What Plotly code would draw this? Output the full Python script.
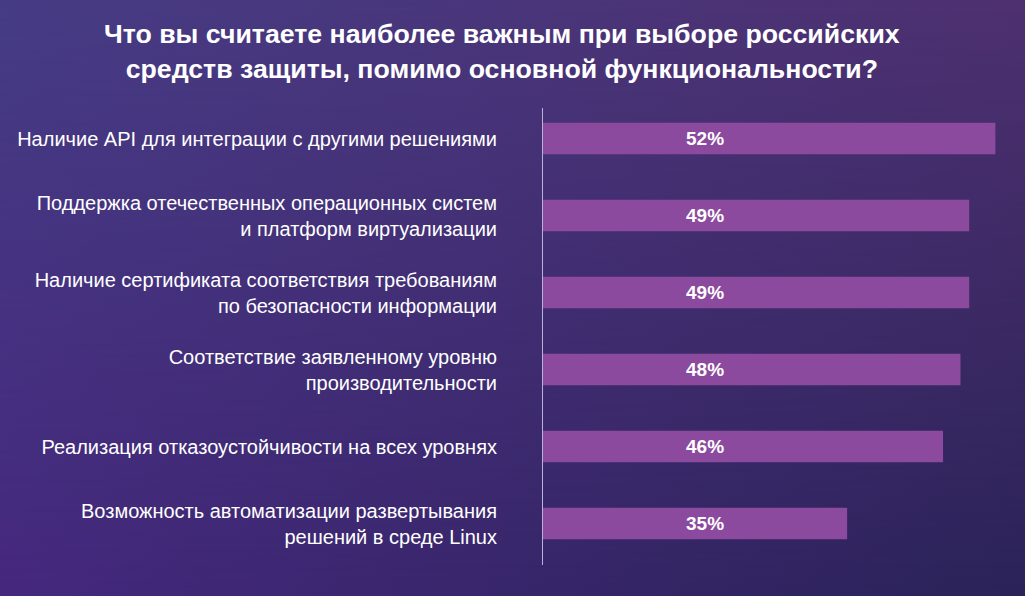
import base64
import plotly.graph_objects as go

title_text = "Что вы считаете наиболее важным при выборе российских<br>средств защиты, помимо основной функциональности?"
categories = [
    "Наличие API для интеграции с другими решениями",
    "Поддержка отечественных операционных систем<br>и платформ виртуализации",
    "Наличие сертификата соответствия требованиям<br>по безопасности информации",
    "Соответствие заявленному уровню<br>производительности",
    "Реализация отказоустойчивости на всех уровнях",
    "Возможность автоматизации развертывания<br>решений в среде Linux",
]
values = [52, 49, 49, 48, 46, 35]

LABEL_X = 18.7
W, H = 1025, 596
ML, MR, MT, MB = 542, 0, 100, 34
PW, PH = W - ML - MR, H - MT - MB

svg = f"""<svg xmlns='http://www.w3.org/2000/svg' width='{W}' height='{H}' viewBox='0 0 {W} {H}' preserveAspectRatio='none'>
<defs>
<linearGradient id='t' x1='0' y1='0' x2='1' y2='0'><stop offset='0' stop-color='#463C85'/><stop offset='1' stop-color='#4E3070'/></linearGradient>
<linearGradient id='b' x1='0' y1='0' x2='1' y2='0'><stop offset='0' stop-color='#45287D'/><stop offset='1' stop-color='#2A2358'/></linearGradient>
<linearGradient id='v' x1='0' y1='0' x2='0' y2='1'><stop offset='0' stop-color='black'/><stop offset='1' stop-color='white'/></linearGradient>
<mask id='m'><rect width='{W}' height='{H}' fill='url(#v)'/></mask>
</defs>
<rect width='{W}' height='{H}' fill='url(#t)'/>
<rect width='{W}' height='{H}' fill='url(#b)' mask='url(#m)'/>
</svg>"""
bg_src = "data:image/svg+xml;base64," + base64.b64encode(svg.encode()).decode()

fig = go.Figure(go.Bar(
    x=values, y=categories, orientation="h",
    marker=dict(color="#8B4A9D", line=dict(width=0)),
    width=0.41, hoverinfo="skip",
))

for c, v in zip(categories, values):
    fig.add_annotation(x=LABEL_X, y=c, text=f"<b>{v}%</b>", showarrow=False,
                       xanchor="center", yanchor="middle",
                       font=dict(family="Liberation Sans, Arial", size=19, color="white"))

fig.add_annotation(x=(502 - ML) / PW, y=1 + (MT - 52) / PH, xref="paper", yref="paper",
                   text=f"<b>{title_text}</b>", showarrow=False, xanchor="center", yanchor="middle",
                   font=dict(family="Liberation Sans, Arial", size=26.7, color="white"))

fig.add_shape(type="line", xref="x", yref="paper", x0=0, x1=0,
              y0=(H - MB - 565) / PH, y1=(H - MB - 108) / PH,
              line=dict(color="#B9B1D8", width=2))

fig.add_layout_image(dict(source=bg_src, xref="paper", yref="paper",
                          x=-ML / PW, y=1 + MT / PH, sizex=W / PW, sizey=H / PH,
                          xanchor="left", yanchor="top", sizing="stretch", layer="below"))

fig.update_layout(
    width=W, height=H,
    margin=dict(l=ML, r=MR, t=MT, b=MB),
    paper_bgcolor="#3D2E72", plot_bgcolor="rgba(0,0,0,0)",
    showlegend=False,
    font=dict(family="Liberation Sans, Arial", size=20, color="white"),
    xaxis=dict(range=[0, 55.4], visible=False, fixedrange=True),
    yaxis=dict(categoryorder="array", categoryarray=categories, autorange="reversed",
               showgrid=False, zeroline=False, showline=False, ticks="",
               ticklabelstandoff=44, tickfont=dict(size=20, color="white"), fixedrange=True),
)

fig.write_html("out.html", config={"displayModeBar": False, "staticPlot": True})

# remove default page margin so the figure fills the window
with open("out.html", "r", encoding="utf-8") as f:
    html = f.read()
html = html.replace("<head>", "<head><style>html,body{margin:0;padding:0;overflow:hidden;}</style>", 1)
with open("out.html", "w", encoding="utf-8") as f:
    f.write(html)
